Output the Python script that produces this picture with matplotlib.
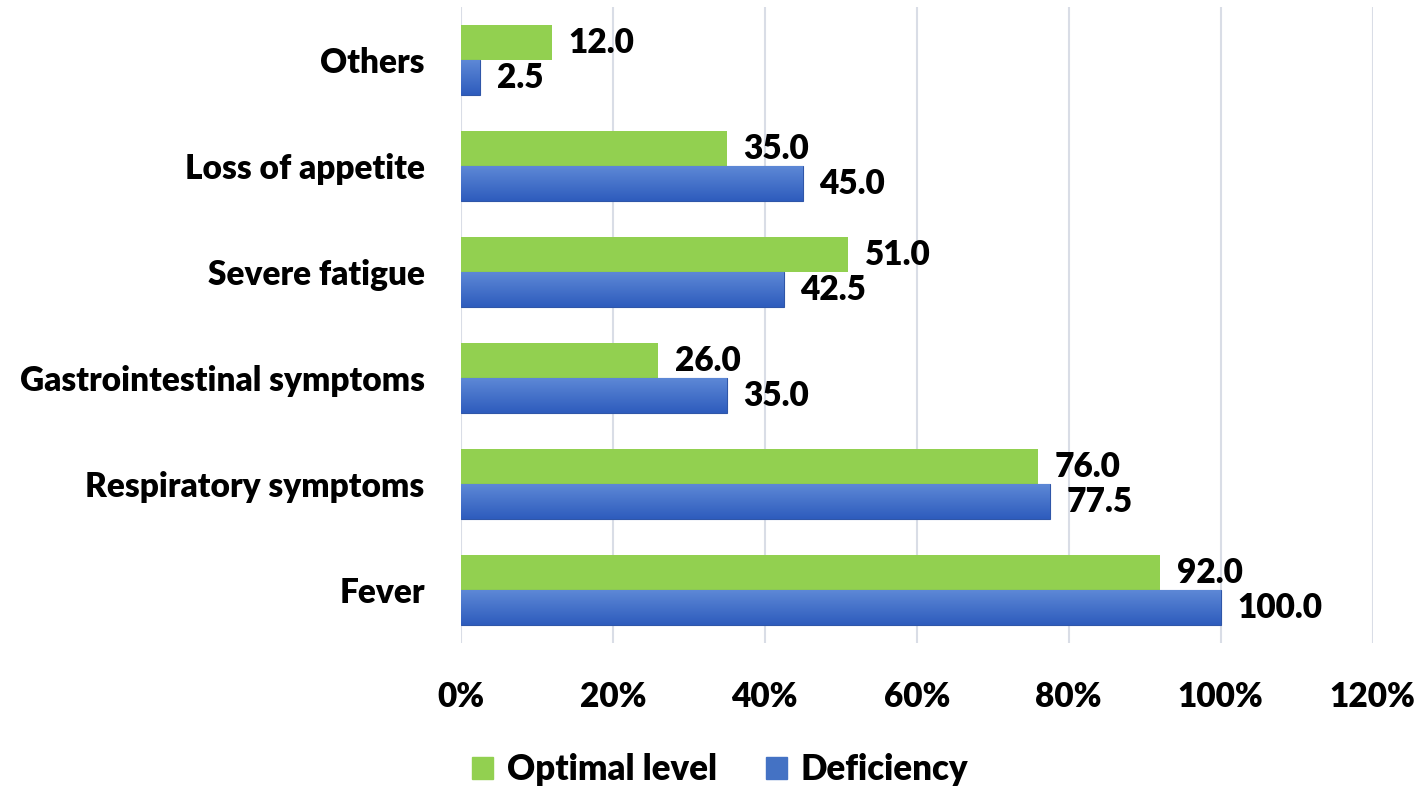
import numpy as np
import matplotlib.pyplot as plt
from matplotlib.ticker import FuncFormatter
from matplotlib.patches import Patch

# data, bottom to top
categories = ["Fever", "Respiratory symptoms", "Gastrointestinal symptoms",
              "Severe fatigue", "Loss of appetite", "Others"]
optimal = [92.0, 76.0, 26.0, 51.0, 35.0, 12.0]
deficiency = [100.0, 77.5, 35.0, 42.5, 45.0, 2.5]
xticks = [0, 20, 40, 60, 80, 100, 120]

plt.rcParams["font.family"] = ["Lato", "DejaVu Sans"]
plt.rcParams["font.weight"] = "heavy"

green = "#92D050"
blue = "#4472C4"
fs = 24

fig = plt.figure(figsize=(14.18, 7.97), dpi=100)
ax = fig.add_axes([0.325, 0.193, 0.643, 0.798])

y = np.arange(len(categories))
h = 0.33
bars_opt = ax.barh(y + h / 2, optimal, height=h, color=green, label="Optimal level", zorder=3)
bars_def = ax.barh(y - h / 2, deficiency, height=h, color=blue, edgecolor="#2F56A8",
                   linewidth=0.8, label="Deficiency", zorder=3)

# vertical gradient on the blue bars
grad = np.linspace(0, 1, 64).reshape(-1, 1)
cmap = plt.matplotlib.colors.LinearSegmentedColormap.from_list("b", ["#2E5CBD", "#5D88D6"])
for b in bars_def:
    x0, y0 = b.get_x(), b.get_y()
    w, hh = b.get_width(), b.get_height()
    im = ax.imshow(grad, extent=[x0, x0 + w, y0, y0 + hh], origin="lower",
                   aspect="auto", cmap=cmap, zorder=3.5)
    im.set_clip_path(b)

ax.bar_label(bars_opt, fmt="%.1f", padding=12, fontsize=fs, fontweight="heavy")
ax.bar_label(bars_def, fmt="%.1f", padding=12, fontsize=fs, fontweight="heavy")

ax.set_xlim(0, 120)
ax.set_ylim(-0.5, len(categories) - 0.5)
ax.set_xticks(xticks)
ax.xaxis.set_major_formatter(FuncFormatter(lambda v, p: f"{v:.0f}%"))
ax.set_yticks(y)
ax.set_yticklabels(categories)
ax.tick_params(axis="both", length=0, labelsize=fs)
ax.tick_params(axis="y", pad=26)
ax.tick_params(axis="x", pad=27)
ax.grid(axis="x", color="#D9DDE6", linewidth=1.5, zorder=0)
for s in ax.spines.values():
    s.set_visible(False)

handles = [Patch(color=green), Patch(color=blue)]
fig.legend(handles, ["Optimal level", "Deficiency"], loc="center", bbox_to_anchor=(0.508, 0.034),
           ncol=2, frameon=False, fontsize=fs + 1, handlelength=0.6, handleheight=0.6,
           handletextpad=0.4, columnspacing=1.4)

fig.savefig("out.png", dpi=100)
